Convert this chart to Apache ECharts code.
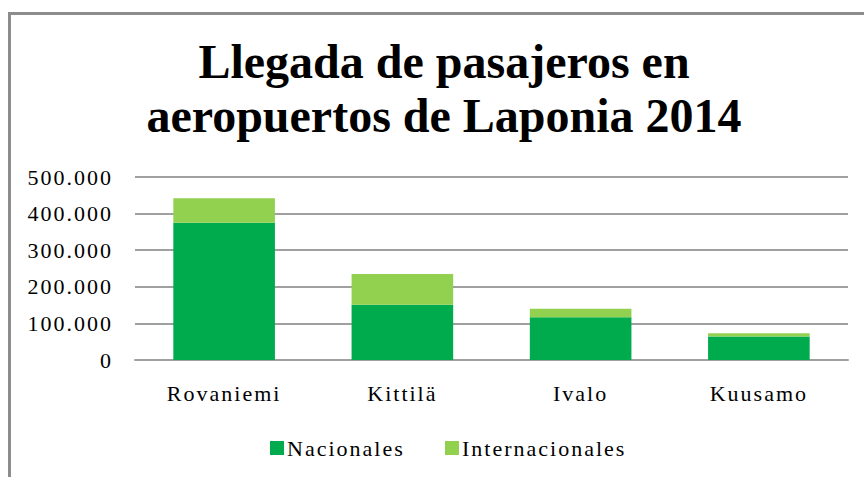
<!DOCTYPE html>
<html>
<head>
<meta charset="utf-8">
<script src="https://cdn.jsdelivr.net/npm/echarts@6/dist/echarts.min.js"></script>
<style>
html,body{margin:0;padding:0;background:#fff;}
#frame{position:absolute;left:8px;top:12px;width:900px;height:500px;border:3px solid #8c8c8c;box-sizing:border-box;}
#chart{position:absolute;left:0;top:0;width:864px;height:477px;}
#chart text{font-family:"Liberation Serif","Times New Roman",serif !important;letter-spacing:2px;}
#chart text[style*="bold"]{letter-spacing:0;}
</style>
</head>
<body>
<div id="frame"></div>
<div id="chart"></div>
<script>
var categories = ['Rovaniemi', 'Kittilä', 'Ivalo', 'Kuusamo'];
var nacionales = [375000, 151000, 117000, 64000];
var internacionales = [67000, 84000, 23000, 9000];
var seriesNames = ['Nacionales', 'Internacionales'];
var titleText = 'Llegada de pasajeros en\naeropuertos de Laponia 2014';

var serif = "Liberation Serif";
var chart = echarts.init(document.getElementById('chart'), null, {renderer: 'svg'});
var legendText = {fontFamily: serif, fontSize: 22, color: '#000', padding: [0, 0, 0, -2]};
chart.setOption({
  backgroundColor: 'transparent',
  animation: false,
  title: {
    text: titleText,
    left: 439,
    textAlign: 'center',
    top: 29,
    textStyle: {fontFamily: serif, fontWeight: 'bold', fontSize: 48, lineHeight: 54, color: '#000'}
  },
  grid: {left: 135, right: 16, top: 177, bottom: 117},
  legend: [
    {data: [seriesNames[0]], left: 270, top: 437, padding: 0, itemWidth: 14, itemHeight: 14, icon: 'rect', textStyle: legendText},
    {data: [seriesNames[1]], left: 445, top: 437, padding: 0, itemWidth: 14, itemHeight: 14, icon: 'rect', textStyle: legendText}
  ],
  xAxis: {
    type: 'category',
    data: categories,
    axisLine: {show: true, lineStyle: {color: '#a0a0a0', width: 2}},
    axisTick: {show: false},
    axisLabel: {fontFamily: serif, fontSize: 22, color: '#000', margin: 22}
  },
  yAxis: {
    type: 'value',
    min: 0,
    max: 500000,
    interval: 100000,
    axisLine: {show: false},
    axisTick: {show: false},
    splitLine: {lineStyle: {color: '#a0a0a0', width: 2}},
    axisLabel: {
      fontFamily: serif, fontSize: 22, color: '#000', margin: 22,
      formatter: function (v) { return v === 0 ? '0' : String(v).replace(/\B(?=(\d{3})+(?!\d))/g, '.'); }
    }
  },
  series: [
    {name: seriesNames[0], type: 'bar', stack: 't', data: nacionales, barWidth: '57%', itemStyle: {color: '#00AB4E'}},
    {name: seriesNames[1], type: 'bar', stack: 't', data: internacionales, barWidth: '57%', itemStyle: {color: '#92D050'}}
  ]
});
</script>
</body>
</html>
